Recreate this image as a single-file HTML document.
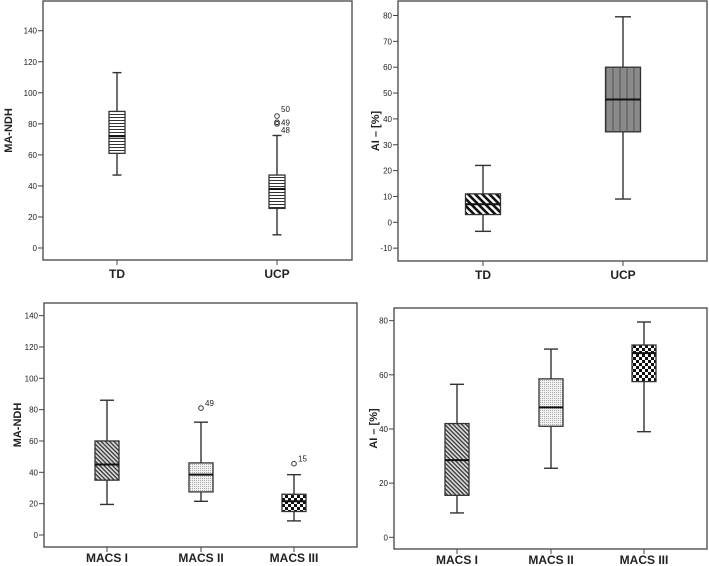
<!DOCTYPE html>
<html><head><meta charset="utf-8">
<style>
html,body{margin:0;padding:0;background:#fff;}
svg{display:block;font-family:"Liberation Sans",sans-serif;}
</style></head>
<body>
<svg id="chart" width="709" height="566" viewBox="0 0 709 566">
<defs>
<pattern id="p-hlines" width="4" height="3" patternUnits="userSpaceOnUse"><rect width="4" height="3" fill="#fff"/><rect width="4" height="1" fill="#333"/></pattern>
<pattern id="p-diag" width="5" height="5" patternUnits="userSpaceOnUse" patternTransform="rotate(45)"><rect width="5" height="5" fill="#fff"/><rect width="5" height="2.6" fill="#111"/></pattern>
<pattern id="p-vgray" width="7" height="4" patternUnits="userSpaceOnUse"><rect width="7" height="4" fill="#8a8a8a"/><rect x="3" width="2" height="4" fill="#6e6e6e"/></pattern>
<pattern id="p-hatch" width="3" height="3" patternUnits="userSpaceOnUse" patternTransform="rotate(45)"><rect width="3" height="3" fill="#ddd"/><rect width="3" height="1.3" fill="#333"/></pattern>
<pattern id="p-dots" width="2" height="2" patternUnits="userSpaceOnUse"><rect width="2" height="2" fill="#f2f2f2"/><rect width="1" height="1" fill="#aaa"/></pattern>
<pattern id="p-check" width="6" height="6" patternUnits="userSpaceOnUse"><rect width="6" height="6" fill="#fff"/><rect width="3" height="3" fill="#111"/><rect x="3" y="3" width="3" height="3" fill="#111"/></pattern>
</defs>
</svg>
<script>
// Panel 1: MA-NDH by group
const p1Cats = ["TD","UCP"];
const p1Max = [113, 72.5];
const p1Q3 = [88, 47];
const p1Med = [72, 38];
const p1Q1 = [61, 25.5];
const p1Min = [47, 8.5];
const p1OutVals = [[], [85, 81, 80]];
const p1OutLabels = [[], ["50","49","48"]];
const p1Ticks = [0,20,40,60,80,100,120,140];
// Panel 2: AI by group
const p2Cats = ["TD","UCP"];
const p2Max = [22, 79.5];
const p2Q3 = [11, 60];
const p2Med = [7, 47.5];
const p2Q1 = [3, 35];
const p2Min = [-3.5, 9];
const p2Ticks = [-10,0,10,20,30,40,50,60,70,80];
// Panel 3: MA-NDH by MACS
const p3Cats = ["MACS I","MACS II","MACS III"];
const p3Max = [86, 72, 38.5];
const p3Q3 = [60, 46, 26];
const p3Med = [45, 38.5, 21.5];
const p3Q1 = [35, 27.5, 15];
const p3Min = [19.5, 21.5, 9];
const p3OutVals = [[], [81], [45.5]];
const p3OutLabels = [[], ["49"], ["15"]];
const p3Ticks = [0,20,40,60,80,100,120,140];
// Panel 4: AI by MACS
const p4Cats = ["MACS I","MACS II","MACS III"];
const p4Max = [56.5, 69.5, 79.5];
const p4Q3 = [42, 58.5, 71];
const p4Med = [28.5, 48, 68];
const p4Q1 = [15.5, 41, 57.5];
const p4Min = [9, 25.5, 39];
const p4Ticks = [0,20,40,60,80];

const svg = document.getElementById('chart');
const NS = 'http://www.w3.org/2000/svg';
function mk(tag, attrs, parent){
  const e = document.createElementNS(NS, tag);
  for (const k in attrs) e.setAttribute(k, attrs[k]);
  (parent||svg).appendChild(e);
  return e;
}

function panel(cfg){
  const g = mk('g', {});
  
  
  const y = v => cfg.y0 - (v - cfg.v0) * cfg.scale;
  const frame = mk('rect', {x:cfg.L, y:cfg.T, width:cfg.R-cfg.L, height:cfg.B-cfg.T, fill:'none', stroke:'#444', 'stroke-width':1.3}, g);
  
  
  cfg.ticks.forEach(t => {
    const ty = y(t);
    const tl = mk('line', {x1:cfg.L-5, x2:cfg.L, y1:ty, y2:ty, stroke:'#444', 'stroke-width':1}, g);
    
    
    const tx = mk('text', {x:cfg.L-6, y:ty+3, 'font-size':8, 'text-anchor':'end', fill:'#222'}, g);
    tx.textContent = t;
    
    
  });
  const yt = mk('text', {x:cfg.titleX, y:(cfg.T+cfg.B)/2, 'font-size':11, 'font-weight':'bold', 'text-anchor':'middle', fill:'#222', transform:'rotate(-90 '+cfg.titleX+' '+((cfg.T+cfg.B)/2)+')'}, g);
  yt.textContent = cfg.title;
  
  
  cfg.cats.forEach((c,i) => {
    const cx = cfg.L + (cfg.R - cfg.L) * cfg.xf[i];
    const w = cfg.boxW, cap = cfg.capW;
    const bg = mk('g', {}, g);
    
    
    mk('line', {x1:cx, x2:cx, y1:y(cfg.max[i]), y2:y(cfg.q3[i]), stroke:'#333', 'stroke-width':1.4}, bg);
    mk('line', {x1:cx, x2:cx, y1:y(cfg.q1[i]), y2:y(cfg.min[i]), stroke:'#333', 'stroke-width':1.4}, bg);
    mk('line', {x1:cx-cap/2, x2:cx+cap/2, y1:y(cfg.max[i]), y2:y(cfg.max[i]), stroke:'#333', 'stroke-width':1.4}, bg);
    mk('line', {x1:cx-cap/2, x2:cx+cap/2, y1:y(cfg.min[i]), y2:y(cfg.min[i]), stroke:'#333', 'stroke-width':1.4}, bg);
    mk('rect', {x:cx-w/2, y:y(cfg.q3[i]), width:w, height:y(cfg.q1[i])-y(cfg.q3[i]), fill:'url(#'+cfg.fills[i]+')', stroke:'#333', 'stroke-width':1.3}, bg);
    mk('line', {x1:cx-w/2, x2:cx+w/2, y1:y(cfg.med[i]), y2:y(cfg.med[i]), stroke:'#111', 'stroke-width':2}, bg);
    const ov = (cfg.outs && cfg.outs[i]) || [];
    ov.forEach((v,j) => {
      const o = mk('circle', {cx:cx, cy:y(v), r:2.3, fill:'none', stroke:'#333', 'stroke-width':1}, bg);
      
      
      const ol = mk('text', {x:cx+4, y:y(v)+(cfg.outDy ? cfg.outDy[j] : -2), 'font-size':8, fill:'#222'}, bg);
      ol.textContent = cfg.outLabels[i][j];
      
      
    });
    mk('line', {x1:cx, x2:cx, y1:cfg.B, y2:cfg.B+5, stroke:'#444', 'stroke-width':1}, g);
    const xl = mk('text', {x:cx, y:cfg.labY, 'font-size':12, 'font-weight':'bold', 'text-anchor':'middle', fill:'#222'}, g);
    xl.textContent = c;
    
    
  });
}

panel({name:'panel-ma-ndh-group', L:43, T:1, R:352, B:260, v0:0, y0:248, scale:1.552,
  ticks:p1Ticks, title:'MA-NDH', titleX:12, cats:p1Cats, xf:[(117-43)/309,(277-43)/309],
  max:p1Max, q3:p1Q3, med:p1Med, q1:p1Q1, min:p1Min, outs:p1OutVals, outLabels:p1OutLabels, outDy:[-4,3,9],
  boxW:16, capW:9, fills:['p-hlines','p-hlines'], labY:278});
panel({name:'panel-ai-group', L:398, T:1, R:707, B:261, v0:0, y0:222.3, scale:2.585,
  ticks:p2Ticks, title:'AI –  [%]', titleX:379, cats:p2Cats, xf:[(483-398)/309,(623-398)/309],
  max:p2Max, q3:p2Q3, med:p2Med, q1:p2Q1, min:p2Min,
  boxW:35, capW:16, fills:['p-diag','p-vgray'], labY:279});
panel({name:'panel-ma-ndh-macs', L:44, T:303, R:357, B:547, v0:0, y0:535, scale:1.567,
  ticks:p3Ticks, title:'MA-NDH', titleX:21, cats:p3Cats, xf:[(107-44)/313,(201-44)/313,(294-44)/313],
  max:p3Max, q3:p3Q3, med:p3Med, q1:p3Q1, min:p3Min, outs:p3OutVals, outLabels:p3OutLabels,
  boxW:24, capW:14, fills:['p-hatch','p-dots','p-check'], labY:562});
panel({name:'panel-ai-macs', L:394, T:308, R:707, B:549, v0:0, y0:537.3, scale:2.708,
  ticks:p4Ticks, title:'AI –  [%]', titleX:377, cats:p4Cats, xf:[(457-394)/313,(551-394)/313,(644-394)/313],
  max:p4Max, q3:p4Q3, med:p4Med, q1:p4Q1, min:p4Min,
  boxW:24, capW:14, fills:['p-hatch','p-dots','p-check'], labY:564});
</script>
</body></html>
